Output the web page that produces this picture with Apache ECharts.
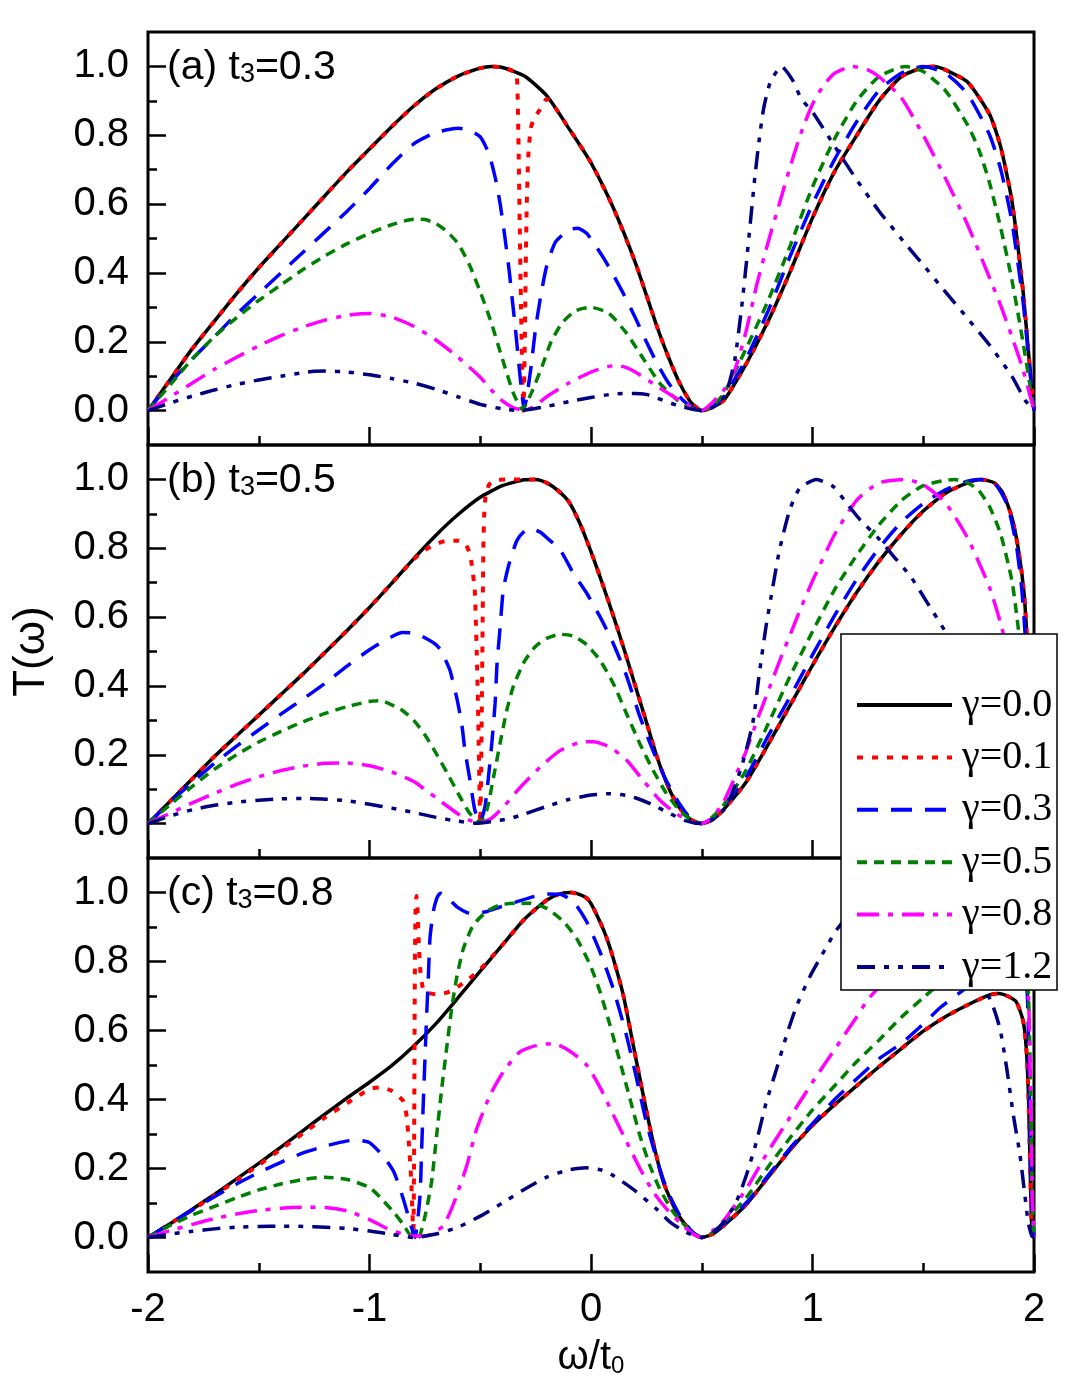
<!DOCTYPE html>
<html>
<head>
<meta charset="utf-8">
<title>T(ω) for t3 = 0.3, 0.5, 0.8</title>
<script src="https://cdn.jsdelivr.net/npm/echarts@6.0.0/dist/echarts.min.js"></script>
<style>
  html, body { margin: 0; padding: 0; background: #fff; }
  #chart { width: 1068px; height: 1391px; }
</style>
</head>
<body>
<div id="chart"></div>
<script>
// legend names and tick values
const gammaNames = ['γ=0.0', 'γ=0.1', 'γ=0.3', 'γ=0.5', 'γ=0.8', 'γ=1.2'];
const panelTags = ['(a)', '(b)', '(c)'];
const t3Values = ['0.3', '0.5', '0.8'];
const yMajorTicks = [0, 0.2, 0.4, 0.6, 0.8, 1.0];
const yMinorTicks = [0.1, 0.3, 0.5, 0.7, 0.9];

// ---- panel (a) t3=0.3, points [ω/t0, T] ----
const a_g00 = [[-2,0],[-1.9,0.09],[-1.8,0.18],[-1.7,0.26],[-1.6,0.34],[-1.5,0.415],[-1.4,0.485],[-1.3,0.555],[-1.2,0.625],[-1.1,0.695],[-1,0.76],[-0.9,0.825],[-0.8,0.885],[-0.7,0.935],[-0.6,0.972],[-0.5,0.995],[-0.45,1],[-0.4,0.997],[-0.3,0.972],[-0.2,0.915],[-0.1,0.82],[0,0.72],[0.1,0.59],[0.2,0.43],[0.3,0.24],[0.35,0.155],[0.4,0.08],[0.45,0.025],[0.5,0],[0.55,0.01],[0.6,0.03],[0.7,0.135],[0.8,0.26],[0.9,0.405],[1,0.56],[1.1,0.695],[1.2,0.8],[1.3,0.9],[1.4,0.97],[1.5,0.997],[1.55,1],[1.6,0.99],[1.7,0.955],[1.8,0.86],[1.85,0.765],[1.9,0.61],[1.95,0.35],[1.975,0.17],[2,0]];
const a_g01 = [[-2,0],[-1.9,0.09],[-1.8,0.18],[-1.7,0.26],[-1.6,0.34],[-1.5,0.415],[-1.4,0.485],[-1.3,0.555],[-1.2,0.625],[-1.1,0.695],[-1,0.76],[-0.9,0.825],[-0.8,0.885],[-0.7,0.935],[-0.6,0.972],[-0.5,0.995],[-0.45,1],[-0.4,0.997],[-0.35,0.986],[-0.335,0.975],[-0.328,0.8],[-0.322,0.55],[-0.316,0.3],[-0.31,0.1],[-0.305,0],[-0.3,0.15],[-0.295,0.4],[-0.29,0.6],[-0.283,0.74],[-0.272,0.82],[-0.255,0.852],[-0.235,0.87],[-0.2,0.905],[-0.1,0.82],[0,0.72],[0.1,0.59],[0.2,0.43],[0.3,0.24],[0.35,0.155],[0.4,0.08],[0.45,0.025],[0.5,0],[0.55,0.01],[0.6,0.03],[0.7,0.135],[0.8,0.26],[0.9,0.405],[1,0.56],[1.1,0.695],[1.2,0.8],[1.3,0.9],[1.4,0.97],[1.5,0.997],[1.55,1],[1.6,0.99],[1.7,0.955],[1.8,0.86],[1.85,0.765],[1.9,0.61],[1.95,0.35],[1.975,0.17],[2,0]];
const a_g03 = [[-2,0],[-1.9,0.08],[-1.8,0.15],[-1.7,0.215],[-1.6,0.28],[-1.5,0.34],[-1.4,0.4],[-1.3,0.46],[-1.2,0.52],[-1.1,0.58],[-1,0.645],[-0.9,0.715],[-0.8,0.775],[-0.7,0.808],[-0.6,0.82],[-0.55,0.815],[-0.5,0.795],[-0.46,0.745],[-0.43,0.67],[-0.41,0.6],[-0.39,0.51],[-0.37,0.41],[-0.355,0.32],[-0.34,0.23],[-0.325,0.13],[-0.312,0.05],[-0.302,0.005],[-0.29,0.04],[-0.27,0.13],[-0.25,0.24],[-0.225,0.34],[-0.2,0.42],[-0.16,0.49],[-0.1,0.525],[-0.06,0.53],[-0.02,0.515],[0.02,0.48],[0.06,0.44],[0.1,0.395],[0.15,0.335],[0.2,0.27],[0.25,0.2],[0.3,0.135],[0.35,0.08],[0.4,0.04],[0.45,0.012],[0.5,0],[0.55,0.012],[0.6,0.04],[0.7,0.15],[0.8,0.29],[0.9,0.45],[1,0.6],[1.1,0.73],[1.2,0.84],[1.3,0.93],[1.4,0.98],[1.5,1],[1.6,0.98],[1.7,0.92],[1.8,0.8],[1.85,0.7],[1.9,0.55],[1.95,0.32],[1.975,0.16],[2,0]];
const a_g05 = [[-2,0],[-1.9,0.075],[-1.8,0.15],[-1.7,0.215],[-1.6,0.27],[-1.5,0.32],[-1.4,0.365],[-1.3,0.41],[-1.2,0.45],[-1.1,0.485],[-1,0.515],[-0.9,0.54],[-0.8,0.556],[-0.75,0.555],[-0.7,0.543],[-0.65,0.52],[-0.6,0.485],[-0.55,0.425],[-0.5,0.345],[-0.45,0.255],[-0.4,0.15],[-0.35,0.05],[-0.31,0.003],[-0.27,0.05],[-0.22,0.13],[-0.18,0.2],[-0.13,0.255],[-0.07,0.29],[0,0.3],[0.08,0.283],[0.16,0.225],[0.24,0.147],[0.31,0.08],[0.39,0.03],[0.45,0.008],[0.5,0],[0.55,0.015],[0.6,0.05],[0.7,0.18],[0.8,0.32],[0.9,0.48],[1,0.65],[1.1,0.79],[1.2,0.9],[1.3,0.97],[1.42,1],[1.5,0.985],[1.6,0.93],[1.7,0.83],[1.75,0.76],[1.8,0.66],[1.85,0.53],[1.9,0.38],[1.95,0.2],[2,0]];
const a_g08 = [[-2,0],[-1.9,0.04],[-1.8,0.08],[-1.7,0.12],[-1.6,0.155],[-1.5,0.188],[-1.4,0.218],[-1.3,0.243],[-1.2,0.263],[-1.1,0.277],[-1,0.282],[-0.9,0.272],[-0.8,0.245],[-0.7,0.205],[-0.6,0.155],[-0.5,0.097],[-0.45,0.06],[-0.4,0.028],[-0.35,0.008],[-0.3,0.001],[-0.25,0.015],[-0.2,0.04],[-0.1,0.08],[0,0.112],[0.1,0.13],[0.15,0.127],[0.2,0.112],[0.3,0.07],[0.4,0.03],[0.45,0.012],[0.5,0],[0.55,0.025],[0.6,0.06],[0.65,0.12],[0.7,0.23],[0.75,0.37],[0.8,0.49],[0.85,0.6],[0.9,0.71],[0.95,0.81],[1,0.89],[1.05,0.945],[1.1,0.98],[1.18,1],[1.25,0.99],[1.3,0.97],[1.4,0.91],[1.5,0.8],[1.6,0.675],[1.7,0.54],[1.8,0.385],[1.85,0.305],[1.9,0.215],[1.95,0.12],[2,0]];
const a_g12 = [[-2,0],[-1.9,0.022],[-1.8,0.042],[-1.7,0.06],[-1.6,0.076],[-1.5,0.089],[-1.4,0.1],[-1.3,0.11],[-1.25,0.114],[-1.2,0.115],[-1.1,0.112],[-1,0.104],[-0.9,0.093],[-0.8,0.08],[-0.7,0.062],[-0.6,0.04],[-0.5,0.018],[-0.4,0.005],[-0.32,0],[-0.25,0.006],[-0.2,0.012],[-0.1,0.026],[0,0.038],[0.1,0.048],[0.2,0.05],[0.25,0.047],[0.3,0.036],[0.4,0.013],[0.5,0],[0.55,0.01],[0.6,0.04],[0.62,0.07],[0.65,0.15],[0.68,0.3],[0.7,0.42],[0.72,0.55],[0.74,0.68],[0.76,0.79],[0.78,0.88],[0.81,0.955],[0.86,1],[0.91,0.96],[0.95,0.905],[1,0.868],[1.1,0.768],[1.2,0.67],[1.3,0.58],[1.4,0.5],[1.5,0.423],[1.6,0.345],[1.7,0.268],[1.8,0.19],[1.9,0.1],[1.96,0.03],[2,0]];

// ---- panel (b) t3=0.5 ----
const b_g00 = [[-2,0],[-1.9,0.065],[-1.8,0.13],[-1.7,0.195],[-1.6,0.255],[-1.5,0.315],[-1.4,0.375],[-1.3,0.435],[-1.2,0.498],[-1.1,0.562],[-1,0.628],[-0.9,0.698],[-0.8,0.77],[-0.7,0.838],[-0.6,0.898],[-0.5,0.948],[-0.4,0.982],[-0.3,0.999],[-0.25,1],[-0.2,0.99],[-0.15,0.968],[-0.1,0.935],[-0.05,0.872],[0,0.79],[0.05,0.7],[0.1,0.605],[0.15,0.505],[0.2,0.4],[0.25,0.295],[0.3,0.19],[0.35,0.105],[0.4,0.045],[0.45,0.012],[0.5,0],[0.55,0.012],[0.6,0.042],[0.7,0.12],[0.8,0.23],[0.9,0.345],[1,0.46],[1.1,0.57],[1.2,0.672],[1.3,0.762],[1.4,0.84],[1.5,0.908],[1.6,0.96],[1.7,0.99],[1.76,1],[1.82,0.99],[1.86,0.96],[1.9,0.89],[1.93,0.795],[1.955,0.67],[1.97,0.52],[1.98,0.38],[1.99,0.2],[2,0]];
const b_g01 = [[-2,0],[-1.9,0.065],[-1.8,0.13],[-1.7,0.195],[-1.6,0.255],[-1.5,0.315],[-1.4,0.375],[-1.3,0.435],[-1.2,0.498],[-1.1,0.562],[-1,0.628],[-0.9,0.698],[-0.8,0.768],[-0.75,0.795],[-0.7,0.812],[-0.65,0.822],[-0.6,0.822],[-0.57,0.815],[-0.55,0.79],[-0.54,0.76],[-0.525,0.68],[-0.516,0.5],[-0.509,0.31],[-0.504,0.12],[-0.5,0],[-0.496,0.15],[-0.492,0.4],[-0.489,0.6],[-0.486,0.8],[-0.482,0.9],[-0.476,0.95],[-0.46,0.985],[-0.43,0.998],[-0.35,1],[-0.25,1],[-0.2,0.99],[-0.15,0.968],[-0.1,0.935],[-0.05,0.872],[0,0.79],[0.05,0.7],[0.1,0.605],[0.15,0.505],[0.2,0.4],[0.25,0.295],[0.3,0.19],[0.35,0.105],[0.4,0.045],[0.45,0.012],[0.5,0],[0.55,0.012],[0.6,0.042],[0.7,0.12],[0.8,0.23],[0.9,0.345],[1,0.46],[1.1,0.57],[1.2,0.672],[1.3,0.762],[1.4,0.84],[1.5,0.908],[1.6,0.96],[1.7,0.99],[1.76,1],[1.82,0.99],[1.86,0.96],[1.9,0.89],[1.93,0.795],[1.955,0.67],[1.97,0.52],[1.98,0.38],[1.99,0.2],[2,0]];
const b_g03 = [[-2,0],[-1.9,0.062],[-1.8,0.12],[-1.7,0.175],[-1.6,0.225],[-1.5,0.272],[-1.4,0.318],[-1.3,0.362],[-1.2,0.408],[-1.1,0.458],[-1,0.505],[-0.9,0.543],[-0.85,0.555],[-0.8,0.553],[-0.75,0.54],[-0.7,0.52],[-0.68,0.505],[-0.66,0.48],[-0.637,0.446],[-0.607,0.368],[-0.584,0.291],[-0.569,0.213],[-0.546,0.125],[-0.524,0.038],[-0.501,0.005],[-0.479,0.048],[-0.463,0.135],[-0.448,0.232],[-0.433,0.349],[-0.424,0.466],[-0.41,0.572],[-0.396,0.679],[-0.373,0.747],[-0.335,0.822],[-0.3,0.85],[-0.27,0.857],[-0.23,0.847],[-0.19,0.825],[-0.14,0.796],[-0.08,0.728],[-0.02,0.67],[0.04,0.602],[0.1,0.524],[0.16,0.43],[0.22,0.312],[0.28,0.212],[0.34,0.125],[0.4,0.057],[0.45,0.015],[0.5,0],[0.55,0.015],[0.6,0.05],[0.7,0.135],[0.8,0.255],[0.9,0.37],[1,0.49],[1.1,0.605],[1.2,0.71],[1.3,0.8],[1.4,0.875],[1.5,0.93],[1.6,0.97],[1.7,0.995],[1.75,1],[1.82,0.99],[1.88,0.925],[1.92,0.81],[1.945,0.68],[1.96,0.55],[1.975,0.38],[1.99,0.18],[2,0]];
const b_g05 = [[-2,0],[-1.9,0.055],[-1.8,0.108],[-1.7,0.158],[-1.6,0.2],[-1.5,0.237],[-1.4,0.268],[-1.3,0.296],[-1.2,0.32],[-1.1,0.34],[-1,0.355],[-0.95,0.357],[-0.9,0.345],[-0.85,0.328],[-0.8,0.3],[-0.75,0.258],[-0.7,0.205],[-0.65,0.148],[-0.6,0.088],[-0.55,0.032],[-0.5,0.003],[-0.47,0.04],[-0.44,0.135],[-0.41,0.235],[-0.38,0.33],[-0.35,0.4],[-0.3,0.472],[-0.25,0.515],[-0.2,0.538],[-0.14,0.55],[-0.08,0.545],[-0.02,0.52],[0.04,0.475],[0.1,0.408],[0.16,0.32],[0.22,0.233],[0.28,0.155],[0.34,0.088],[0.4,0.038],[0.45,0.012],[0.5,0],[0.55,0.02],[0.6,0.055],[0.7,0.155],[0.8,0.29],[0.9,0.43],[1,0.558],[1.1,0.68],[1.2,0.78],[1.3,0.868],[1.4,0.938],[1.5,0.982],[1.64,1],[1.7,0.99],[1.75,0.968],[1.8,0.92],[1.85,0.84],[1.9,0.707],[1.92,0.615],[1.95,0.45],[1.975,0.25],[2,0]];
const b_g08 = [[-2,0],[-1.9,0.03],[-1.8,0.06],[-1.7,0.088],[-1.6,0.114],[-1.5,0.136],[-1.4,0.154],[-1.3,0.167],[-1.2,0.175],[-1.1,0.176],[-1,0.168],[-0.9,0.15],[-0.8,0.122],[-0.7,0.075],[-0.6,0.028],[-0.55,0.01],[-0.5,0.003],[-0.45,0.015],[-0.4,0.045],[-0.32,0.105],[-0.23,0.164],[-0.14,0.212],[-0.05,0.236],[0.01,0.238],[0.086,0.222],[0.161,0.184],[0.236,0.125],[0.311,0.068],[0.387,0.028],[0.45,0.006],[0.5,0],[0.55,0.02],[0.6,0.065],[0.65,0.135],[0.7,0.21],[0.75,0.3],[0.8,0.385],[0.85,0.47],[0.9,0.55],[0.95,0.63],[1,0.705],[1.1,0.84],[1.2,0.94],[1.3,0.99],[1.42,1],[1.5,0.985],[1.6,0.932],[1.7,0.83],[1.8,0.685],[1.85,0.58],[1.9,0.45],[1.95,0.28],[2,0]];
const b_g12 = [[-2,0],[-1.9,0.022],[-1.8,0.04],[-1.7,0.053],[-1.6,0.062],[-1.5,0.068],[-1.4,0.072],[-1.3,0.073],[-1.2,0.071],[-1.1,0.066],[-1,0.056],[-0.9,0.045],[-0.8,0.032],[-0.7,0.018],[-0.6,0.007],[-0.52,0.001],[-0.45,0.006],[-0.37,0.014],[-0.3,0.028],[-0.2,0.05],[-0.1,0.07],[0,0.083],[0.086,0.087],[0.16,0.082],[0.2,0.075],[0.27,0.057],[0.36,0.028],[0.43,0.008],[0.5,0],[0.55,0.012],[0.6,0.04],[0.623,0.068],[0.65,0.11],[0.684,0.174],[0.73,0.291],[0.76,0.436],[0.79,0.572],[0.821,0.688],[0.851,0.795],[0.897,0.911],[0.942,0.974],[1.018,1],[1.094,0.979],[1.155,0.93],[1.216,0.882],[1.292,0.833],[1.368,0.775],[1.444,0.717],[1.52,0.64],[1.596,0.562],[1.7,0.45],[1.8,0.33],[1.9,0.2],[1.95,0.1],[2,0]];

// ---- panel (c) t3=0.8 ----
const c_g00 = [[-2,0],[-1.9,0.04],[-1.8,0.082],[-1.7,0.125],[-1.6,0.17],[-1.5,0.215],[-1.4,0.262],[-1.3,0.31],[-1.2,0.358],[-1.1,0.405],[-1,0.45],[-0.9,0.498],[-0.8,0.555],[-0.7,0.62],[-0.6,0.695],[-0.5,0.772],[-0.4,0.848],[-0.3,0.923],[-0.2,0.978],[-0.14,0.996],[-0.09,1],[-0.05,0.994],[-0.02,0.984],[0,0.968],[0.04,0.916],[0.07,0.87],[0.1,0.81],[0.146,0.702],[0.19,0.56],[0.236,0.412],[0.28,0.278],[0.327,0.16],[0.387,0.073],[0.45,0.018],[0.5,0],[0.55,0.01],[0.6,0.035],[0.7,0.095],[0.8,0.175],[0.9,0.255],[1,0.325],[1.1,0.385],[1.2,0.44],[1.3,0.495],[1.4,0.547],[1.5,0.598],[1.6,0.64],[1.7,0.674],[1.8,0.703],[1.84,0.707],[1.88,0.7],[1.92,0.683],[1.95,0.63],[1.965,0.55],[1.975,0.41],[1.982,0.22],[1.99,0.03],[2,0]];
const c_g01 = [[-2,0],[-1.9,0.04],[-1.8,0.08],[-1.7,0.122],[-1.6,0.166],[-1.5,0.21],[-1.4,0.256],[-1.3,0.302],[-1.2,0.348],[-1.1,0.39],[-1,0.43],[-0.95,0.435],[-0.9,0.425],[-0.87,0.41],[-0.847,0.395],[-0.832,0.35],[-0.822,0.27],[-0.812,0.17],[-0.806,0.07],[-0.802,0],[-0.799,0.2],[-0.797,0.5],[-0.795,0.8],[-0.792,0.95],[-0.788,0.99],[-0.783,0.95],[-0.778,0.86],[-0.77,0.77],[-0.76,0.725],[-0.75,0.712],[-0.7,0.705],[-0.65,0.71],[-0.6,0.727],[-0.55,0.75],[-0.5,0.778],[-0.45,0.812],[-0.4,0.848],[-0.3,0.923],[-0.2,0.978],[-0.14,0.996],[-0.09,1],[-0.05,0.994],[-0.02,0.984],[0,0.968],[0.04,0.916],[0.07,0.87],[0.1,0.81],[0.146,0.702],[0.19,0.56],[0.236,0.412],[0.28,0.278],[0.327,0.16],[0.387,0.073],[0.45,0.018],[0.5,0],[0.55,0.01],[0.6,0.035],[0.7,0.095],[0.8,0.175],[0.9,0.255],[1,0.325],[1.1,0.385],[1.2,0.44],[1.3,0.495],[1.4,0.547],[1.5,0.598],[1.6,0.64],[1.7,0.674],[1.8,0.703],[1.84,0.707],[1.88,0.7],[1.92,0.683],[1.95,0.63],[1.965,0.55],[1.975,0.41],[1.982,0.22],[1.99,0.03],[2,0]];
const c_g03 = [[-2,0],[-1.9,0.04],[-1.8,0.08],[-1.7,0.118],[-1.6,0.155],[-1.5,0.188],[-1.4,0.218],[-1.3,0.245],[-1.2,0.265],[-1.1,0.28],[-1.05,0.282],[-1,0.275],[-0.94,0.237],[-0.89,0.19],[-0.847,0.111],[-0.817,0.044],[-0.795,0],[-0.772,0.121],[-0.765,0.247],[-0.757,0.393],[-0.749,0.528],[-0.742,0.644],[-0.734,0.76],[-0.727,0.867],[-0.712,0.945],[-0.695,0.985],[-0.68,0.998],[-0.66,0.992],[-0.637,0.978],[-0.6,0.956],[-0.56,0.942],[-0.53,0.938],[-0.47,0.945],[-0.41,0.958],[-0.336,0.973],[-0.26,0.988],[-0.2,0.996],[-0.14,0.995],[-0.08,0.974],[-0.02,0.916],[0.04,0.829],[0.1,0.722],[0.16,0.586],[0.206,0.46],[0.25,0.334],[0.296,0.228],[0.342,0.14],[0.402,0.063],[0.46,0.015],[0.5,0],[0.55,0.012],[0.6,0.04],[0.7,0.1],[0.8,0.18],[0.9,0.26],[1,0.33],[1.1,0.4],[1.2,0.46],[1.3,0.518],[1.4,0.562],[1.485,0.61],[1.58,0.668],[1.67,0.712],[1.75,0.75],[1.85,0.79],[1.9,0.81],[1.95,0.79],[1.97,0.7],[1.98,0.4],[1.99,0.1],[2,0]];
const c_g05 = [[-2,0],[-1.9,0.035],[-1.8,0.065],[-1.7,0.09],[-1.6,0.115],[-1.5,0.138],[-1.4,0.155],[-1.3,0.168],[-1.2,0.175],[-1.1,0.168],[-1,0.145],[-0.95,0.115],[-0.9,0.08],[-0.85,0.04],[-0.817,0.008],[-0.78,0],[-0.75,0.06],[-0.72,0.16],[-0.697,0.295],[-0.674,0.431],[-0.652,0.547],[-0.629,0.664],[-0.607,0.751],[-0.576,0.838],[-0.531,0.906],[-0.471,0.945],[-0.411,0.964],[-0.336,0.969],[-0.275,0.969],[-0.2,0.954],[-0.125,0.916],[-0.065,0.867],[-0.004,0.79],[0.041,0.712],[0.086,0.615],[0.131,0.509],[0.176,0.402],[0.221,0.295],[0.266,0.208],[0.311,0.14],[0.372,0.073],[0.447,0.02],[0.5,0],[0.55,0.015],[0.6,0.045],[0.7,0.115],[0.8,0.205],[0.9,0.29],[1,0.37],[1.1,0.44],[1.2,0.51],[1.3,0.572],[1.4,0.638],[1.5,0.695],[1.6,0.75],[1.7,0.8],[1.8,0.84],[1.9,0.86],[1.95,0.84],[1.975,0.7],[1.985,0.4],[1.993,0.1],[2,0]];
const c_g08 = [[-2,0],[-1.9,0.02],[-1.8,0.038],[-1.7,0.055],[-1.6,0.068],[-1.5,0.078],[-1.4,0.085],[-1.3,0.088],[-1.2,0.087],[-1.1,0.077],[-1,0.052],[-0.92,0.026],[-0.85,0.01],[-0.8,0.004],[-0.74,0.005],[-0.7,0.018],[-0.667,0.034],[-0.635,0.075],[-0.607,0.121],[-0.561,0.208],[-0.516,0.315],[-0.456,0.412],[-0.396,0.48],[-0.321,0.538],[-0.245,0.557],[-0.17,0.562],[-0.095,0.54],[-0.02,0.5],[0.041,0.435],[0.101,0.355],[0.161,0.277],[0.221,0.2],[0.281,0.132],[0.342,0.082],[0.402,0.043],[0.46,0.01],[0.5,0],[0.55,0.02],[0.6,0.05],[0.7,0.14],[0.8,0.25],[0.9,0.35],[1,0.45],[1.1,0.545],[1.2,0.64],[1.25,0.69],[1.3,0.725],[1.4,0.79],[1.5,0.84],[1.6,0.88],[1.7,0.91],[1.8,0.93],[1.9,0.94],[1.95,0.9],[1.975,0.7],[1.985,0.4],[1.993,0.1],[2,0]];
const c_g12 = [[-2,0],[-1.9,0.01],[-1.8,0.018],[-1.7,0.025],[-1.6,0.03],[-1.5,0.032],[-1.4,0.033],[-1.3,0.032],[-1.2,0.03],[-1.1,0.026],[-1,0.019],[-0.9,0.009],[-0.8,0],[-0.7,0.01],[-0.6,0.03],[-0.5,0.062],[-0.4,0.1],[-0.3,0.14],[-0.2,0.175],[-0.1,0.196],[-0.02,0.202],[0.05,0.195],[0.1,0.18],[0.2,0.135],[0.3,0.08],[0.36,0.043],[0.43,0.015],[0.5,0],[0.55,0.015],[0.593,0.04],[0.653,0.099],[0.699,0.176],[0.745,0.273],[0.79,0.389],[0.836,0.485],[0.881,0.582],[0.927,0.669],[0.988,0.756],[1.064,0.843],[1.109,0.892],[1.2,0.96],[1.3,0.99],[1.4,0.97],[1.5,0.91],[1.6,0.84],[1.7,0.77],[1.8,0.693],[1.846,0.606],[1.877,0.49],[1.907,0.354],[1.937,0.238],[1.959,0.121],[1.974,0.044],[1.99,0.005],[2,0]];

const panels = [
  [a_g00, a_g01, a_g03, a_g05, a_g08, a_g12],
  [b_g00, b_g01, b_g03, b_g05, b_g08, b_g12],
  [c_g00, c_g01, c_g03, c_g05, c_g08, c_g12]
];

// line look per gamma
const lineColors = ['#000000', '#ff0000', '#0000ff', '#008000', '#ff00ff', '#000080'];
const lineDashes = ['solid', [6, 9], [21, 13], [10, 7], [22, 9, 5, 9], [18, 9, 5, 9, 5, 9]];
const lineWidths = [3.5, 4, 3.5, 3.5, 3.5, 3.5];

const sansFont = 'Liberation Sans, Arial, sans-serif';
const gridTops = [32, 445, 858];
const gridHeights = [413, 413, 414];

const chart = echarts.init(document.getElementById('chart'), null, { renderer: 'canvas' });

const grids = gridTops.map((top, i) => ({
  left: 148, right: 34, top: top, height: gridHeights[i],
  show: true, borderColor: '#000', borderWidth: 3,
  outerBoundsMode: 'none'
}));

const tickLine = { color: '#000', width: 2.5 };

const xAxes = gridTops.map((_, i) => ({
  gridIndex: i, type: 'value', min: -2, max: 2, interval: 1, position: 'bottom',
  axisLine: { show: false, onZero: false },
  axisTick: { show: true, inside: true, length: 18, lineStyle: tickLine },
  minorTick: { show: true, splitNumber: 2, length: 9, lineStyle: tickLine },
  splitLine: { show: false },
  minorSplitLine: { show: false },
  axisLabel: {
    show: i === 2, margin: 18, color: '#000', fontSize: 40, fontFamily: sansFont,
    formatter: v => String(v)
  },
  name: i === 2 ? '{a|ω/t}{b|0}' : '',
  nameLocation: 'middle', nameGap: 66,
  nameTextStyle: {
    rich: {
      a: { fontSize: 40, fontFamily: sansFont, color: '#000' },
      b: { fontSize: 24, fontFamily: sansFont, color: '#000', verticalAlign: 'bottom' }
    }
  }
}));

const yAxes = [];
gridTops.forEach((_, i) => {
  yAxes.push({
    gridIndex: i, type: 'value', min: -0.1, max: 1.1, position: 'left',
    axisLine: { show: false, onZero: false },
    axisTick: { show: true, inside: true, length: 18, customValues: yMajorTicks, lineStyle: tickLine },
    axisLabel: {
      show: true, customValues: yMajorTicks, margin: 19, color: '#000',
      fontSize: 40, fontFamily: sansFont, formatter: v => v.toFixed(1)
    },
    splitLine: { show: false },
    name: i === 1 ? 'T(ω)' : '',
    nameLocation: 'middle', nameRotate: 90, nameGap: 94,
    nameTextStyle: { fontSize: 44, fontFamily: sansFont, color: '#000' }
  });
  yAxes.push({
    gridIndex: i, type: 'value', min: -0.1, max: 1.1, position: 'left', offset: 0,
    axisLine: { show: false, onZero: false },
    axisTick: { show: true, inside: true, length: 9, customValues: yMinorTicks, lineStyle: tickLine },
    axisLabel: { show: false },
    splitLine: { show: false }
  });
});

const series = [];
panels.forEach((curves, p) => {
  curves.forEach((pts, k) => {
    series.push({
      name: gammaNames[k], type: 'line',
      xAxisIndex: p, yAxisIndex: p * 2,
      data: pts,
      symbol: 'none', showSymbol: false,
      smooth: 0.2,
      silent: true,
      lineStyle: { color: lineColors[k], width: lineWidths[k], type: lineDashes[k] },
      itemStyle: { color: lineColors[k] }
    });
  });
});

// panel tags like "(a) t3=0.3" with a small 3
const tagTexts = gridTops.map((top, i) => ({
  type: 'text', x: 167, y: top + 36, z: 10,
  style: {
    text: '{n|' + panelTags[i] + ' t}{s|3}{n|=' + t3Values[i] + '}',
    verticalAlign: 'middle', align: 'left',
    rich: {
      n: { fontSize: 41, fontFamily: sansFont, fill: '#000' },
      s: { fontSize: 27, fontFamily: sansFont, fill: '#000', verticalAlign: 'bottom' }
    }
  }
}));

chart.setOption({
  animation: false,
  backgroundColor: '#fff',
  grid: grids,
  xAxis: xAxes,
  yAxis: yAxes,
  legend: {
    orient: 'vertical', left: 855, top: 685, padding: 0,
    itemGap: 12.4, itemWidth: 95, itemHeight: 14,
    selectedMode: false, z: 6,
    itemStyle: { opacity: 0 },
    lineStyle: { width: 4 },
    textStyle: { fontFamily: 'Liberation Serif, Times New Roman, serif', fontSize: 40, lineHeight: 40, color: '#000', padding: [0, 0, 0, 5] },
    data: gammaNames
  },
  graphic: [
    {
      type: 'rect', z: 5,
      shape: { x: 841, y: 634, width: 216, height: 356 },
      style: { fill: '#fff', stroke: '#000', lineWidth: 1.5 }
    }
  ].concat(tagTexts),
  series: series
});
</script>
</body>
</html>
